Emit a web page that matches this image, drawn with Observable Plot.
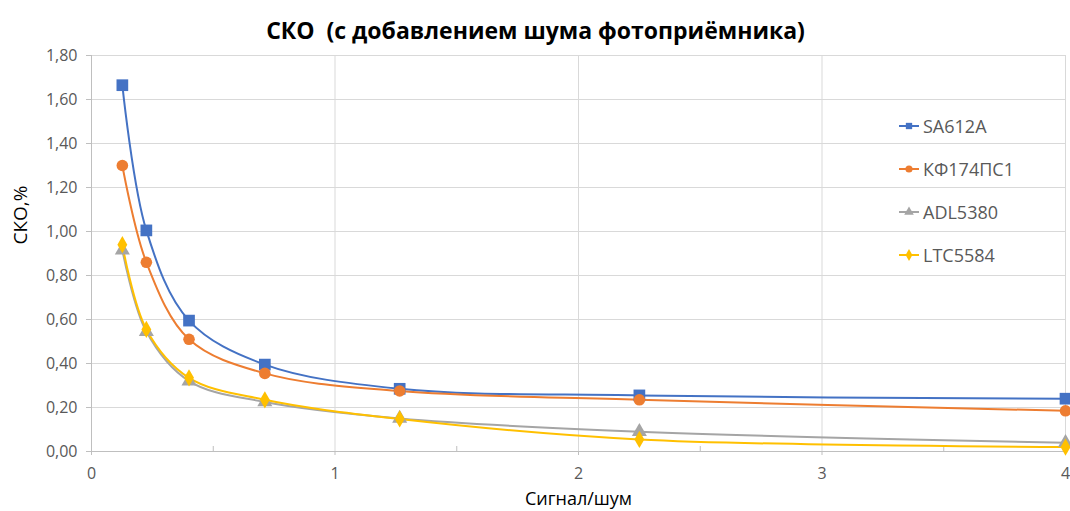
<!DOCTYPE html>
<html>
<head>
<meta charset="utf-8">
<script src="https://cdn.jsdelivr.net/npm/d3@7"></script>
<script src="https://cdn.jsdelivr.net/npm/@observablehq/plot@0.6"></script>
<style>
  html, body { margin: 0; padding: 0; background: #fff; }
  #wrap { position: relative; width: 1070px; height: 511px; font-family: "Open Sans", Lato, sans-serif; }
  #legend { position: absolute; left: 898px; top: 104px; }
  .row { height: 43px; display: flex; align-items: center; font-size: 18px; color: #595959; }
  .row svg { margin-right: 3px; }
</style>
</head>
<body>
<div id="wrap"><div id="chart"></div><div id="legend"></div></div>
<script>
const title = "СКО\u00a0 (с добавлением шума фотоприёмника)";
const xLabel = "Сигнал/шум";
const yLabel = "СКО,%";
const seriesNames = ["SA612A", "КФ174ПС1", "ADL5380", "LTC5584"];
const seriesColors = ["#4472C4", "#ED7D31", "#A5A5A5", "#FFC000"];
const seriesSymbols = ["square", "circle", "triangle", "diamond"];
const xValues = [0.1267, 0.2253, 0.4005, 0.7119, 1.2656, 2.25, 4];
const sa612a  = [1.665, 1.005, 0.595, 0.395, 0.285, 0.255, 0.24];
const kf174   = [1.30, 0.86, 0.51, 0.355, 0.275, 0.235, 0.185];
const adl5380 = [0.915, 0.545, 0.32, 0.225, 0.15, 0.09, 0.04];
const ltc5584 = [0.94, 0.555, 0.335, 0.235, 0.148, 0.055, 0.02];
const yTicks = [0, 0.2, 0.4, 0.6, 0.8, 1.0, 1.2, 1.4, 1.6, 1.8];
const xTicks = [0, 1, 2, 3, 4];
const xMinorTicks = [0.5, 1.5, 2.5, 3.5];

const allSeries = [sa612a, kf174, adl5380, ltc5584];
const symbolR = [6.6, 5.8, 5.6, 5.2];
const rows = allSeries.map((vals, i) => vals.map((v, j) => ({series: seriesNames[i], x: xValues[j], y: v})));

const fmt = d => d.toFixed(2).replace(".", ",");
const marks = [
  Plot.gridY({ticks: yTicks, stroke: "#d9d9d9", strokeOpacity: 1}),
  Plot.gridX({ticks: [1, 2, 3, 4], stroke: "#d9d9d9", strokeOpacity: 1}),
  Plot.axisY({ticks: yTicks, tickSize: 5, tickPadding: 9, tickFormat: fmt, stroke: "#bfbfbf", fill: "#595959", fontSize: 16, label: null}),
  Plot.axisX({ticks: xTicks, tickSize: 4, tickPadding: 12, tickFormat: d => String(d), stroke: "#bfbfbf", fill: "#595959", fontSize: 16, label: null}),
  Plot.axisX({ticks: xMinorTicks, tickSize: -5, text: null, stroke: "#bfbfbf", label: null}),
  Plot.ruleX([0], {stroke: "#bfbfbf"}),
  Plot.ruleY([0], {stroke: "#bfbfbf"})
];
rows.forEach((data, i) => {
  marks.push(Plot.line(data, {x: "x", y: "y", stroke: seriesColors[i], strokeWidth: 2, curve: "catmull-rom"}));
});
rows.forEach((data, i) => {
  marks.push(Plot.dot(data, {x: "x", y: "y", fill: seriesColors[i], stroke: "none", symbol: seriesSymbols[i], r: symbolR[i]}));
});
marks.push(Plot.text([title], {frameAnchor: "top", dx: -43, dy: -33, fontSize: 23, fontWeight: "bold", fill: "#000"}));
marks.push(Plot.text([xLabel], {frameAnchor: "bottom", dy: 53, fontSize: 18, fill: "#000"}));
marks.push(Plot.text([yLabel], {frameAnchor: "left", dx: -71, dy: -9, rotate: -90, fontSize: 19, fill: "#000"}));

const chart = Plot.plot({
  width: 1070,
  height: 511,
  marginLeft: 91,
  marginRight: 5,
  marginTop: 55,
  marginBottom: 60,
  style: {fontFamily: "'Open Sans', Lato, sans-serif", background: "#fff"},
  x: {domain: [0, 4]},
  y: {domain: [0, 1.8]},
  marks
});
document.getElementById("chart").appendChild(chart);

const legend = document.getElementById("legend");
seriesNames.forEach((name, i) => {
  const row = document.createElement("div");
  row.className = "row";
  const sym = d3.symbol(d3["symbol" + seriesSymbols[i][0].toUpperCase() + seriesSymbols[i].slice(1)], 40)();
  row.innerHTML = `<svg width="22" height="14" viewBox="-11 -7 22 14"><line x1="-10" x2="10" y1="0" y2="0" stroke="${seriesColors[i]}" stroke-width="2"/><path d="${sym}" fill="${seriesColors[i]}"/></svg><span>${name}</span>`;
  legend.appendChild(row);
});
</script>
</body>
</html>
